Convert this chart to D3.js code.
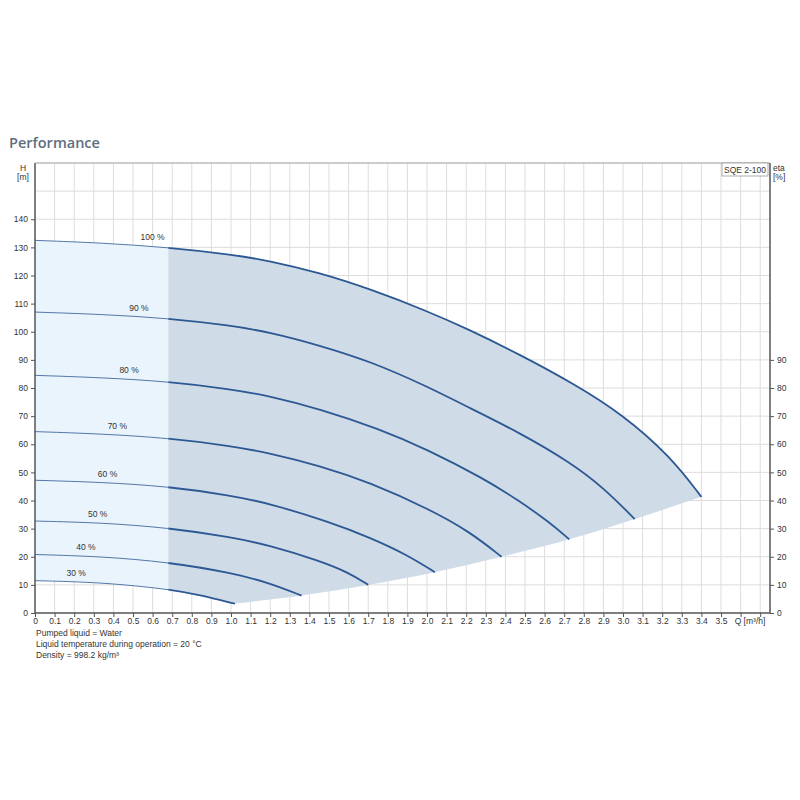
<!DOCTYPE html>
<html>
<head>
<meta charset="utf-8">
<script src="https://cdn.jsdelivr.net/npm/d3@7"></script>
<style>
  body { margin: 0; background: #fff; }
  svg text { font-family: "Liberation Sans", Arial, sans-serif; fill: #333; }
</style>
</head>
<body>
<div id="chart"></div>
<script>
"use strict";
// speed curves (percent of full speed), Q in m³/h, H in m
const speedLabels = ["100 %", "90 %", "80 %", "70 %", "60 %", "50 %", "40 %", "30 %"];
const curveQ = [
  [0, 0.34, 0.68, 1.0, 1.2, 1.45, 1.71, 2.0, 2.22, 2.47, 2.75, 3.0, 3.24, 3.4],
  [0, 0.34, 0.68, 1.0, 1.2, 1.45, 1.71, 2.0, 2.22, 2.47, 2.73, 2.9, 3.06],
  [0, 0.34, 0.68, 1.0, 1.2, 1.45, 1.76, 2.0, 2.29, 2.47, 2.62, 2.726],
  [0, 0.34, 0.68, 1.0, 1.2, 1.45, 1.71, 2.015, 2.22, 2.38],
  [0, 0.34, 0.68, 1.0, 1.2, 1.5, 1.71, 1.9, 2.04],
  [0, 0.34, 0.68, 1.0, 1.2, 1.45, 1.6, 1.70],
  [0, 0.34, 0.68, 1.01, 1.2, 1.36],
  [0, 0.34, 0.68, 0.84, 1.02]
];
const curveH = [
  [132.5, 131.6, 130, 127.5, 125.2, 121, 115.2, 107.4, 100.6, 92, 81.5, 70.5, 55.8, 41.3],
  [107, 106.2, 104.8, 102.2, 99.8, 95.2, 89.5, 80.6, 72.8, 64.2, 53.6, 44.6, 33.4],
  [84.5, 83.7, 82.3, 79.6, 77.1, 72.6, 65.4, 58.2, 47.8, 39.9, 32.5, 26.2],
  [64.5, 63.7, 62.2, 59.4, 56.8, 52.4, 46.4, 36.8, 28.8, 20.0],
  [47.2, 46.5, 45, 41.8, 38.9, 32.4, 26.8, 20.6, 14.5],
  [32.7, 32.1, 30.3, 27, 24, 18.6, 14.4, 10.0],
  [20.8, 20.1, 18.1, 14.2, 10.6, 6.2],
  [11.5, 10.9, 8.5, 6.4, 3.3]
];
// where the speed labels sit along each curve
const labelQ = [0.6, 0.53, 0.48, 0.42, 0.37, 0.32, 0.26, 0.21];
// flow below which the pump runs outside its recommended range
const lowFlowLimitQ = 0.68;
const xTicks = d3.range(0, 38).map(i => i / 10);
const xTickLabels = d3.range(0, 36).map(i => i === 0 ? "0" : (i / 10).toFixed(1));
const hTicks = d3.range(0, 150, 10);
const etaTicks = d3.range(0, 100, 10);
const notes = ["Pumped liquid = Water", "Liquid temperature during operation = 20 °C", "Density = 998.2 kg/m³"];
const pumpName = "SQE 2-100";

const width = 800, height = 800;
const margin = { top: 163, right: 30, bottom: 187, left: 35 };

const svg = d3.select("#chart").append("svg")
  .attr("width", width)
  .attr("height", height);

const x = d3.scaleLinear().domain([0, 3.75]).range([margin.left, width - margin.right]);
const y = d3.scaleLinear().domain([0, 160]).range([height - margin.bottom, margin.top]);

// title
svg.append("text")
  .attr("x", 9).attr("y", 148)
  .style("font-family", "'Open Sans', sans-serif")
  .style("font-size", "14.5px").style("font-weight", "600")
  .style("fill", "#5b6e7f")
  .text("Performance");

// grid
const grid = svg.append("g").attr("stroke", "#dddddd").attr("stroke-width", 1);
grid.selectAll(".vg").data(xTicks.slice(1)).enter().append("line")
  .attr("x1", d => x(d)).attr("x2", d => x(d))
  .attr("y1", y(0)).attr("y2", y(160));
grid.selectAll(".hg").data(d3.range(10, 170, 10)).enter().append("line")
  .attr("x1", x(0)).attr("x2", x(3.75))
  .attr("y1", d => y(d)).attr("y2", d => y(d));

const curves = curveQ.map((qs, i) => qs.map((q, j) => [q, curveH[i][j]]));
const line = d3.line().x(d => x(d[0])).y(d => y(d[1])).curve(d3.curveBasis);
const edge = d3.line().x(d => x(d[0])).y(d => y(d[1])).curve(d3.curveCatmullRom.alpha(0.5));

// operating area: top = full speed, bottom = curve ends then lowest speed curve
const ends = curves.map(c => c[c.length - 1]).sort((a, b) => a[0] - b[0]);
const lowest = curves[curves.length - 1];
const areaD = line(curves[0]) +
  edge(ends.slice().reverse()).replace(/^M/, "L") +
  line(lowest.slice().reverse()).replace(/^M/, "L") + "Z";

const defs = svg.append("defs");
defs.append("clipPath").attr("id", "clipLow").append("rect")
  .attr("x", x(0)).attr("y", 0).attr("width", x(lowFlowLimitQ) - x(0)).attr("height", height);
defs.append("clipPath").attr("id", "clipHigh").append("rect")
  .attr("x", x(lowFlowLimitQ)).attr("y", 0).attr("width", x(3.75) - x(lowFlowLimitQ)).attr("height", height);

svg.append("path").attr("d", areaD).attr("fill", "#eaf4fd").attr("clip-path", "url(#clipLow)");
svg.append("path").attr("d", areaD).attr("fill", "#cfdbe7").attr("clip-path", "url(#clipHigh)");

// curves: thin in the low flow range, thicker afterwards
const cg = svg.append("g").attr("fill", "none").attr("stroke", "#2c5893");
curves.forEach(c => {
  cg.append("path").attr("d", line(c)).attr("stroke-width", 1).attr("stroke-opacity", 0.8).attr("clip-path", "url(#clipLow)");
  cg.append("path").attr("d", line(c)).attr("stroke-width", 1.8).attr("clip-path", "url(#clipHigh)");
});

// speed labels
svg.selectAll(".spd").data(speedLabels).enter().append("text")
  .attr("x", (d, i) => x(labelQ[i]))
  .attr("y", (d, i) => y(d3.scaleLinear().domain(curveQ[i]).range(curveH[i])(labelQ[i])) - 6)
  .attr("text-anchor", "middle")
  .style("font-size", "8.5px")
  .text(d => d);

// axes
const axisColor = "#555";
const xAxis = svg.append("g").attr("transform", `translate(0,${y(0)})`)
  .call(d3.axisBottom(x).tickValues(xTicks).tickSize(4)
    .tickFormat((d, i) => i < xTickLabels.length ? xTickLabels[i] : ""));
xAxis.select(".domain").attr("d", `M${x(0)},0H${x(3.75)}`);

const leftAxis = svg.append("g").attr("transform", `translate(${x(0)},0)`)
  .call(d3.axisLeft(y).tickValues(hTicks).tickSize(4).tickFormat(d3.format("d")));
leftAxis.select(".domain").attr("d", `M0,${y(0)}V${y(160)}`);

const rightAxis = svg.append("g").attr("transform", `translate(${x(3.75)},0)`)
  .call(d3.axisRight(y).tickValues(etaTicks).tickSize(4).tickFormat(d3.format("d")));
rightAxis.select(".domain").attr("d", `M0,${y(0)}V${y(160)}`);

[xAxis, leftAxis, rightAxis].forEach(a => {
  a.selectAll(".domain").attr("stroke", axisColor).attr("stroke-width", 1.5);
  a.selectAll(".tick line").attr("stroke", axisColor);
  a.selectAll(".tick text").style("font-family", "'Liberation Sans', Arial, sans-serif")
    .style("font-size", "8.5px").attr("fill", "#333");
});
xAxis.selectAll(".tick text").attr("y", 5);

// top border
svg.append("line").attr("x1", x(0)).attr("x2", x(3.75)).attr("y1", y(160)).attr("y2", y(160))
  .attr("stroke", "#aaa");

// axis titles
const small = (t, xx, yy, anchor) => svg.append("text").attr("x", xx).attr("y", yy)
  .attr("text-anchor", anchor || "middle").style("font-size", "8.5px").text(t);
small("H", 23, 171);
small("[m]", 23, 180);
small("eta", 773, 171, "start");
small("[%]", 773, 180, "start");
small("Q [m³/h]", 750, y(0) + 11);

// pump name box
svg.append("rect").attr("x", 722).attr("y", 163).attr("width", 46).attr("height", 13)
  .attr("fill", "#fff").attr("stroke", "#999").attr("stroke-width", 0.8);
small(pumpName, 745, 173);

// notes under the chart
svg.selectAll(".note").data(notes).enter().append("text")
  .attr("x", 36).attr("y", (d, i) => 636 + i * 11)
  .style("font-size", "8.5px")
  .text(d => d);
</script>
</body>
</html>
